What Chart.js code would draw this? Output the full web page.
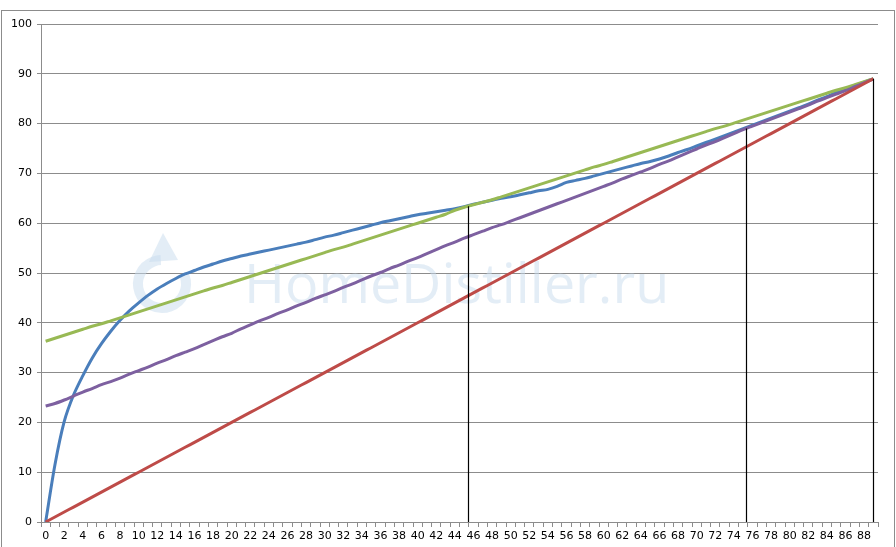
<!DOCTYPE html>
<html>
<head>
<meta charset="utf-8">
<script src="https://cdn.jsdelivr.net/npm/chart.js@4.4.1/dist/chart.umd.min.js"></script>
<style>
  html, body { margin: 0; padding: 0; background: #fff; }
  #wrap { position: relative; width: 896px; height: 547px; }
</style>
</head>
<body>
<div id="wrap"><canvas id="chart" width="896" height="547"></canvas></div>
<script>
const labels = [];
for (let i = 0; i <= 89; i++) labels.push(String(i));

const blue = [
  0, 11.5, 20.2, 25.5, 29.4, 32.9, 35.8, 38.3, 40.5, 42.4,
  44.0, 45.5, 46.8, 47.9, 48.9, 49.8, 50.5, 51.2, 51.8, 52.4,
  52.9, 53.4, 53.8, 54.2, 54.6, 55.0, 55.4, 55.8, 56.2, 56.7,
  57.2, 57.6, 58.1, 58.6, 59.1, 59.6, 60.1, 60.5, 60.9, 61.3,
  61.7, 62.0, 62.3, 62.6, 62.9, 63.3, 63.8, 64.2, 64.6, 65.0,
  65.3, 65.7, 66.1, 66.5, 66.8, 67.4, 68.2, 68.6, 69.0, 69.5,
  70.0, 70.5, 71.0, 71.5, 72.0, 72.4, 72.9, 73.5, 74.2, 74.8,
  75.5, 76.2, 76.9, 77.6, 78.3, 79.0, 79.7, 80.4, 81.1, 81.8,
  82.5, 83.2, 83.9, 84.7, 85.4, 86.2, 86.9, 87.6, 88.3, 89.0
];

const red = [
  0, 1, 2, 3, 4, 5, 6, 7, 8, 9,
  10, 11, 12, 13, 14, 15, 16, 17, 18, 19,
  20, 21, 22, 23, 24, 25, 26, 27, 28, 29,
  30, 31, 32, 33, 34, 35, 36, 37, 38, 39,
  40, 41, 42, 43, 44, 45, 46, 47, 48, 49,
  50, 51, 52, 53, 54, 55, 56, 57, 58, 59,
  60, 61, 62, 63, 64, 65, 66, 67, 68, 69,
  70, 71, 72, 73, 74, 75, 76, 77, 78, 79,
  80, 81, 82, 83, 84, 85, 86, 87, 88, 89
];

const green = [
  36.3, 36.9, 37.5, 38.1, 38.7, 39.3, 39.8, 40.4, 41.0, 41.6,
  42.2, 42.8, 43.4, 44.0, 44.6, 45.2, 45.8, 46.4, 47.0, 47.5,
  48.1, 48.7, 49.3, 49.9, 50.5, 51.1, 51.7, 52.3, 52.9, 53.5,
  54.1, 54.7, 55.2, 55.8, 56.4, 57.0, 57.6, 58.2, 58.8, 59.4,
  60.0, 60.6, 61.2, 61.8, 62.6, 63.2, 63.7, 64.2, 64.7, 65.3,
  65.9, 66.5, 67.1, 67.7, 68.3, 68.9, 69.5, 70.1, 70.7, 71.3,
  71.8, 72.4, 73.0, 73.6, 74.2, 74.8, 75.4, 76.0, 76.6, 77.2,
  77.8, 78.4, 79.0, 79.5, 80.1, 80.7, 81.3, 81.9, 82.5, 83.1,
  83.7, 84.3, 84.9, 85.5, 86.1, 86.7, 87.2, 87.8, 88.4, 89.0
];

const purple = [
  23.3, 23.8, 24.5, 25.3, 26.1, 26.8, 27.6, 28.2, 28.9, 29.7,
  30.4, 31.1, 31.9, 32.6, 33.4, 34.1, 34.8, 35.6, 36.4, 37.2,
  37.9, 38.8, 39.6, 40.4, 41.1, 41.9, 42.6, 43.4, 44.1, 44.9,
  45.6, 46.3, 47.1, 47.8, 48.6, 49.4, 50.1, 50.9, 51.6, 52.4,
  53.1, 53.9, 54.7, 55.5, 56.2, 57.0, 57.7, 58.4, 59.1, 59.7,
  60.4, 61.1, 61.8, 62.5, 63.2, 63.9, 64.6, 65.3, 66.0, 66.7,
  67.4, 68.1, 68.9, 69.6, 70.3, 71.0, 71.8, 72.5, 73.3, 74.1,
  74.9, 75.7, 76.4, 77.2, 78.0, 78.8, 79.5, 80.2, 80.9, 81.6,
  82.3, 83.0, 83.7, 84.5, 85.2, 85.9, 86.6, 87.4, 88.2, 89.0
];

// vertical marker lines: position on the category axis and height
const markerX = [45.4, 75.3, 89];
const markerTop = [63.4, 79.0, 89.0];

const yTicks = [0, 10, 20, 30, 40, 50, 60, 70, 80, 90, 100];

function seriesLine(data, color) {
  return {
    data: data,
    borderColor: color,
    borderWidth: 3,
    pointRadius: 0,
    tension: 0.3,
    fill: false,
  };
}

const datasets = [
  seriesLine(red, '#be4b48'),
  seriesLine(purple, '#7d60a0'),
  seriesLine(green, '#98b954'),
  seriesLine(blue, '#4a7ebb'),
];

const frame = {
  id: 'frame',
  beforeDraw(chart) {
    const ctx = chart.ctx;
    ctx.save();
    ctx.fillStyle = '#ffffff';
    ctx.fillRect(0, 0, chart.width, chart.height);
    ctx.strokeStyle = '#8c8c8c';
    ctx.lineWidth = 1;
    ctx.strokeRect(1.5, 10.5, 893, 600);
    ctx.restore();
  },
  beforeDatasetsDraw(chart) {
    const ctx = chart.ctx;
    ctx.save();
    // watermark
    ctx.fillStyle = 'rgba(200, 219, 237, 0.5)';
    ctx.strokeStyle = 'rgba(200, 219, 237, 0.5)';
    ctx.font = '60px "Open Sans"';
    const w = ctx.measureText('HomeDistiller.ru').width;
    ctx.font = (60 * 425 / w).toFixed(1) + 'px "Open Sans"';
    ctx.textBaseline = 'alphabetic';
    ctx.fillText('HomeDistiller.ru', 244, 303);
    ctx.lineWidth = 10;
    ctx.beginPath();
    ctx.arc(162, 284, 24, -0.35, 1.5 * Math.PI - 0.05, false);
    ctx.stroke();
    ctx.beginPath();
    ctx.moveTo(163, 233);
    ctx.lineTo(149, 262);
    ctx.lineTo(178, 260);
    ctx.closePath();
    ctx.fill();
    ctx.restore();
  },
  afterDatasetsDraw(chart) {
    const ctx = chart.ctx;
    const xs = chart.scales.x, ys = chart.scales.y;
    ctx.save();
    ctx.strokeStyle = '#000000';
    ctx.lineWidth = 1.2;
    for (let i = 0; i < markerX.length; i++) {
      const px = Math.round(xs.getPixelForValue(markerX[i])) + 0.5;
      ctx.beginPath();
      ctx.moveTo(px, ys.getPixelForValue(0));
      ctx.lineTo(px, ys.getPixelForValue(markerTop[i]));
      ctx.stroke();
    }
    ctx.restore();
  }
};

new Chart(document.getElementById('chart').getContext('2d'), {
  type: 'line',
  data: { labels: labels, datasets: datasets },
  plugins: [frame],
  options: {
    responsive: false,
    animation: false,
    layout: { padding: { left: 0, right: 18, top: 24, bottom: 0 } },
    plugins: {
      legend: { display: false },
      tooltip: { enabled: false },
    },
    scales: {
      x: {
        type: 'category',
        offset: true,
        afterFit: (s) => { s.height = 25; },
        grid: {
          offset: true,
          drawOnChartArea: false,
          color: '#8c8c8c',
          tickLength: 5,
        },
        border: { color: '#8c8c8c' },
        ticks: {
          autoSkip: false,
          maxRotation: 0,
          minRotation: 0,
          padding: 3,
          color: '#000000',
          font: { family: 'DejaVu Sans', size: 11 },
          callback: (v, i) => (i % 2 === 0 ? labels[i] : ''),
        },
      },
      y: {
        min: 0,
        max: 100,
        afterFit: (s) => { s.width = 41; },
        afterBuildTicks: (s) => { s.ticks = yTicks.map(v => ({ value: v })); },
        grid: { color: '#8c8c8c', tickLength: 4 },
        border: { color: '#8c8c8c' },
        ticks: {
          padding: 5,
          color: '#000000',
          font: { family: 'DejaVu Sans', size: 11 },
        },
      },
    },
  },
});
</script>
</body>
</html>
